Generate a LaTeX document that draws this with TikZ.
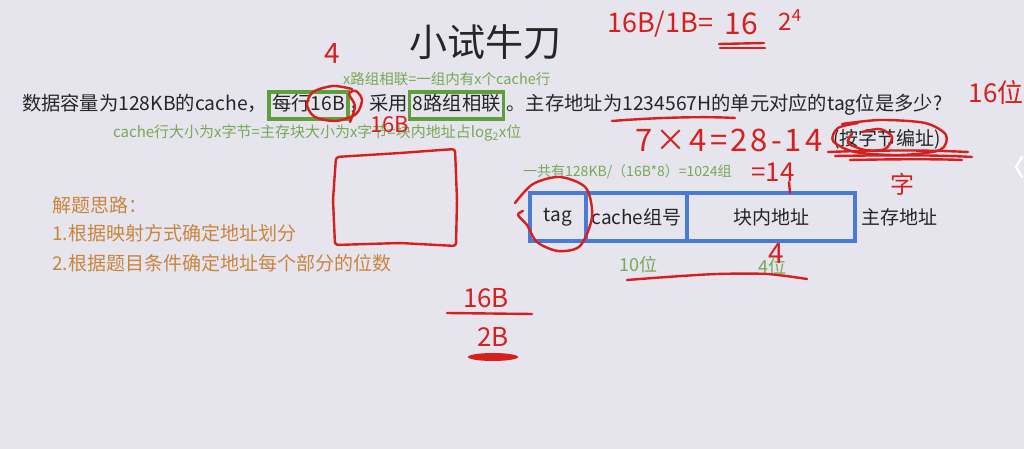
\documentclass[tikz,border=0pt]{standalone}
\usepackage{fontspec}
\setmainfont{Noto Sans CJK SC}
\newfontfamily\handw[LetterSpace=10]{Noto Sans CJK SC}
\definecolor{bg}{HTML}{E6E4EC}
\definecolor{gframe}{HTML}{5E9E3C}
\definecolor{gtext}{HTML}{78A858}
\definecolor{otext}{HTML}{C8853F}
\definecolor{bframe}{HTML}{4A7BD4}
\definecolor{ink}{HTML}{D61F1F}
\definecolor{body}{HTML}{262626}
\begin{document}
\begin{tikzpicture}[x=1pt,y=-1pt,
  txt/.style={inner sep=0pt, outer sep=0pt, font=\fontsize{19.3}{24}\selectfont, text=body},
  gbox/.style={draw=gframe, line width=3.5pt, inner xsep=3pt, inner ysep=4pt, outer sep=0pt,
     text height=15pt, text depth=4pt, font=\fontsize{19.3}{24}\selectfont, text=body},
  gnote/.style={inner sep=0pt, text=gtext},
  onote/.style={inner sep=0pt, text=otext, font=\fontsize{19}{23}\selectfont},
  field/.style={draw=bframe, line width=4.5pt, minimum height=48pt, inner sep=0pt, outer sep=0pt,
     font=\fontsize{19}{23}\selectfont, text=body},
  red/.style={inner sep=0pt, text=ink},
  pen/.style={draw=ink, line width=2.4pt, line cap=round, line join=round}]
\fill[bg] (0,0) rectangle (1024,449);
\useasboundingbox (0,0) rectangle (1024,449);

% title
\node[inner sep=0pt, font=\fontsize{38}{44}\selectfont, text=body] (title) at (485,42) {小试牛刀};

% main question line
\node[txt, anchor=base west] (s1) at (22,111) {数据容量为128KB的cache，};
\node[gbox, anchor=base west] (s2) at ([xshift=2pt]s1.base east) {每行16B};
\node[txt, anchor=base west] (s3) at ([xshift=2pt]s2.base east) {，采用};
\node[gbox, anchor=base west] (s4) at ([xshift=2pt]s3.base east) {8路组相联};
\node[txt, anchor=base west] (s5) at ([xshift=3pt]s4.base east) {。主存地址为1234567H的单元对应的tag位是多少?};

% green notes
\node[gnote, anchor=west, font=\fontsize{14.5}{17}\selectfont] (n1) at (343,79) {x路组相联=一组内有x个cache行};
\node[gnote, anchor=west, font=\fontsize{15}{18}\selectfont] (n2) at (113,133) {cache行大小为x字节=主存块大小为x字节=块内地址占log\textsubscript{2}x位};
\node[gnote, anchor=west, font=\fontsize{14}{17}\selectfont] (n3) at (523,172) {一共有128KB/（16B*8）=1024组};

% orange notes
\node[onote, anchor=west] (o0) at (52,205) {解题思路：};
\node[onote, anchor=west] (o1) at (52,233) {1.根据映射方式确定地址划分};
\node[onote, anchor=west] (o2) at (52,263) {2.根据题目条件确定地址每个部分的位数};

% address fields
\node[field, minimum width=56pt, anchor=west] (tag) at (530,217) {tag};
\node[field, minimum width=101pt, anchor=west] (grp) at (tag.east) {cache组号};
\node[field, minimum width=168pt, anchor=west] (blk) at (grp.east) {块内地址};
\node[txt, font=\fontsize{19}{23}\selectfont, anchor=west] (addr) at ([xshift=6pt]blk.east) {主存地址};
\node[gnote, font=\fontsize{18}{22}\selectfont] (b10) at (638,265) {10位};
\node[gnote, font=\fontsize{18}{22}\selectfont] (b4) at (772,267) {4位};

% (按字节编址)
\node[txt, font=\fontsize{19}{23}\selectfont] (byte) at (887,139) {(按字节编址)};

% ---- red handwriting ----
\node[red, font=\fontsize{27}{30}\selectfont, anchor=west] (h1) at (607,24) {16B/1B=};
\node[red, font=\fontsize{30}{33}\selectfont] (h2) at (741,24) {16};
\node[red, font=\fontsize{24}{28}\selectfont] (h3) at (790,20) {2\textsuperscript{4}};
\draw[pen] (719,44) -- (764,43);
\draw[pen] (720,48) -- (765,48);

\node[red, font=\fontsize{28}{30}\selectfont] (r4) at (332,54) {4};
\draw[pen] plot[smooth] coordinates {(352,89) (333,86) (313,92) (307,105) (315,117) (336,121) (356,114) (362,100) (356,91) (349,94) (355,106) (350,122)};
\node[red, font=\fontsize{22}{26}\selectfont] (r16b) at (390,125) {16B};
\draw[pen, rounded corners=3pt] (336,157) -- (400,153) -- (455,149) -- (457,200) -- (456,246) -- (400,243) -- (335,245) -- (333,200) -- cycle;

\draw[pen] (612,121) .. controls (650,118) and (700,116) .. (735,118);
\node[red, font=\handw\fontsize{31}{33}\selectfont] (eq) at (729,140) {7×4=28-14};
\draw[pen] plot[smooth] coordinates {(842,124) (880,120) (925,123) (946,135) (940,150) (900,155) (855,152) (833,141) (838,128) (858,123)};
\draw[pen] plot[smooth] coordinates {(862,132) (880,129) (892,137) (885,149) (865,150) (848,143) (852,134)};
\draw[pen] (828,152) .. controls (880,150) and (930,150) .. (968,152);
\draw[pen] (835,156) .. controls (890,155) and (940,155) .. (972,157);
\draw[pen] (850,160) .. controls (900,159) and (940,159) .. (962,160);
\node[red, font=\fontsize{26}{28}\selectfont] (r16w) at (996,93) {16位};
\node[red, font=\fontsize{26}{28}\selectfont] (r14) at (773,172) {=14};
\draw[pen] (789,182) -- (790,193);
\node[red, font=\fontsize{24}{26}\selectfont] (rzi) at (902,184) {字};

\draw[pen] plot[smooth] coordinates {(515,203) (533,184) (560,177) (586,188) (592,217) (580,246) (558,251) (537,242) (527,225) (518,215) (523,211)};
\node[red, font=\fontsize{28}{30}\selectfont] (r4b) at (776,254) {4};
\draw[pen] plot[smooth] coordinates {(627,280) (667,277) (717,274) (767,274) (807,279)};

\node[red, font=\fontsize{26}{28}\selectfont] (f1) at (486,298) {16B};
\draw[pen] (447,313) -- (532,314);
\node[red, font=\fontsize{26}{28}\selectfont] (f2) at (493,337) {2B};
\fill[ink] (493,357) ellipse (25pt and 4pt);

% side chevron
\draw[white, line width=2.5pt, line cap=round, line join=round] (1022,157) -- (1016,167) -- (1022,177);
\end{tikzpicture}
\end{document}
